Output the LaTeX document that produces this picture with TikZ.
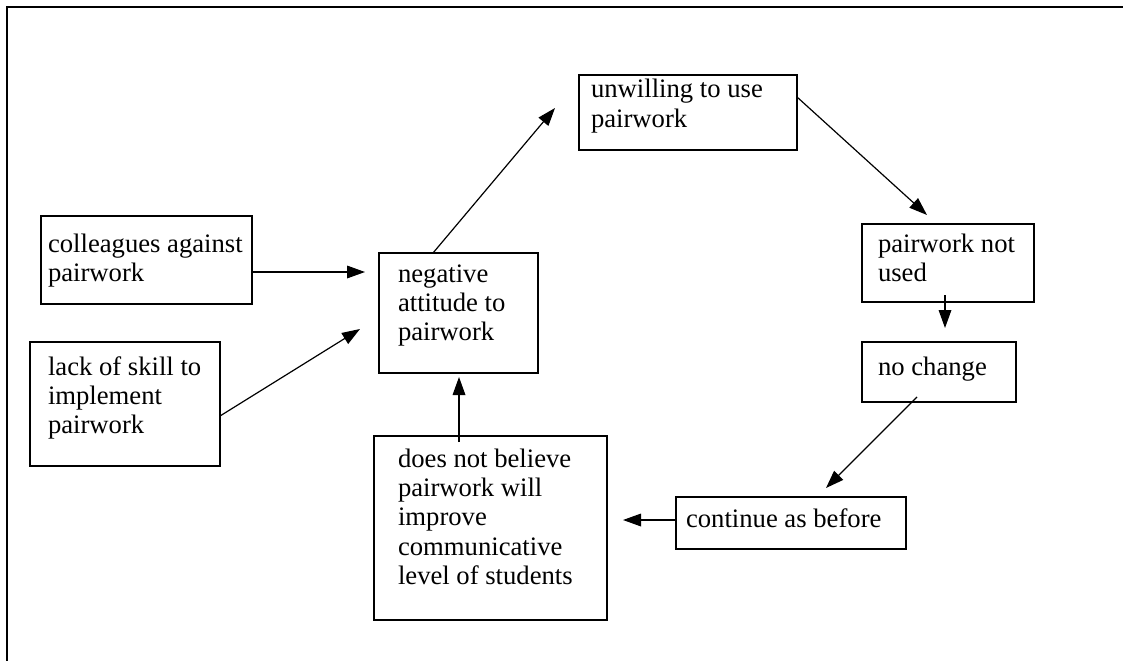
\documentclass[tikz,border=0pt]{standalone}
\usepackage{fontspec}
\setmainfont{Liberation Serif}
\usetikzlibrary{arrows.meta,calc}
\newlength\px \setlength\px{0.75pt}
\newcommand\boxtxt[5]{\parbox[t][#2\px][t]{#1\px}{\raggedright\leftskip=#3\px\relax\rule{0pt}{#4\px}#5}}
\begin{document}
\begin{tikzpicture}[x=0.75pt,y=-0.75pt,
  stepbox/.style={draw, line width=1.1pt, inner sep=0pt, outer sep=0pt, anchor=north west, font=\fontsize{20}{22.1}\selectfont},
  conn/.style={line width=0.9pt, -{Triangle[length=13.5pt,width=9.5pt]}},
  frameline/.style={line width=1.5pt}]
\useasboundingbox (0,0) rectangle (1123,660);
\draw[frameline] (7,662) -- (7,7) -- (1125,7);

\node[stepbox] (col) at (41,216) {\boxtxt{211}{88}{7}{36}{colleagues against\\pairwork}};
\node[stepbox] (lack) at (30,342) {\boxtxt{190}{124}{18}{33}{lack of skill to\\implement\\pairwork}};
\node[stepbox] (neg) at (379,253) {\boxtxt{159}{120}{19}{29}{negative\\attitude to\\pairwork}};
\node[stepbox] (unw) at (579,75) {\boxtxt{218}{75}{12}{23}{unwilling to use\\pairwork}};
\node[stepbox] (notu) at (862,224) {\boxtxt{172}{78}{16}{28}{pairwork not\\used}};
\node[stepbox] (noch) at (862,342) {\boxtxt{154}{60}{16}{33}{no change}};
\node[stepbox] (cont) at (676,497) {\boxtxt{230}{52}{10}{30}{continue as before}};
\node[stepbox] (dnb) at (374,436) {\boxtxt{233}{184}{24}{31}{does not believe\\pairwork will\\improve\\communicative\\level of students}};

\draw[conn] ($(col.north east)+(0,56)$) -- ($(neg.north west)+(-14,19)$);
\draw[conn] ($(lack.north east)+(0,74)$) -- ($(neg.north west)+(-19,76)$);
\draw[conn] ($(neg.north west)+(54,0)$) -- ($(unw.north west)+(-24,33)$);
\draw[conn] ($(unw.north east)+(0,22)$) -- ($(notu.north west)+(65,-9)$);
\draw[conn] ($(notu.south west)+(83,-7)$) -- ($(noch.north west)+(83,-14)$);
\draw[conn] ($(noch.south west)+(55,-5)$) -- ($(cont.north west)+(150,-9)$);
\draw[conn] ($(cont.north west)+(0,23)$) -- ($(dnb.north east)+(16,84)$);
\draw[conn] ($(dnb.north west)+(85,6)$) -- ($(neg.south west)+(80,4)$);
\end{tikzpicture}
\end{document}
